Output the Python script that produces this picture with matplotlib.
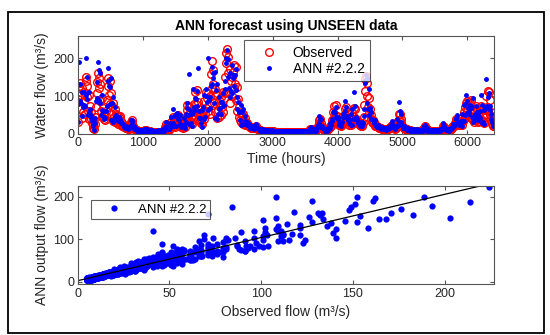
import numpy as np
import matplotlib
matplotlib.use("Agg")
import matplotlib.pyplot as plt
from matplotlib.patches import Rectangle

plt.rcParams["font.family"] = ["Liberation Sans", "DejaVu Sans"]

# hourly record, read every 10 h (one row = 100 h)
hours = np.arange(0, 6401, 10)

observed = [
    31, 93, 128, 136, 67, 104, 43, 121, 58, 88,
    112, 54, 141, 152, 97, 126, 62, 103, 39, 74,
    41, 57, 29, 24, 17, 14, 27, 46, 71, 109,
    138, 161, 123, 148, 87, 133, 61, 96, 44, 68,
    39, 53, 36, 62, 47, 91, 128, 149, 102, 141,
    79, 108, 52, 73, 34, 81, 46, 66, 31, 54,
    36, 51, 27, 44, 31, 47, 24, 34, 21, 27,
    22, 20, 19, 18, 17, 16, 15, 15, 14, 14,
    16, 23, 31, 36, 29, 21, 17, 14, 12, 11,
    10, 10, 9, 9, 9, 8, 8, 8, 8, 8,
    8, 8, 9, 10, 11, 10, 9, 8, 7, 7,
    7, 7, 6, 6, 6, 6, 6, 6, 6, 6,
    6, 6, 6, 6, 6, 6, 6, 6, 6, 6,
    6, 7, 8, 10, 14, 19, 26, 21, 15, 12,
    11, 14, 23, 18, 33, 26, 44, 29, 37, 21,
    19, 36, 27, 47, 51, 31, 43, 23, 33, 19,
    18, 26, 16, 23, 31, 19, 46, 34, 64, 76,
    49, 71, 36, 56, 29, 44, 27, 51, 41, 79,
    61, 112, 79, 117, 56, 84, 39, 66, 34, 49,
    29, 46, 26, 62, 41, 86, 54, 111, 69, 94,
    61, 108, 76, 101, 52, 158, 121, 193, 131, 168,
    81, 118, 57, 102, 42, 109, 64, 91, 46, 77,
    51, 99, 71, 112, 58, 96, 109, 152, 189, 214,
    224, 162, 203, 108, 171, 82, 139, 101, 151, 164,
    121, 183, 132, 176, 89, 124, 61, 92, 46, 71,
    36, 54, 31, 49, 26, 53, 29, 43, 23, 33,
    28, 25, 23, 21, 20, 19, 18, 17, 16, 15,
    15, 15, 16, 18, 20, 18, 15, 13, 12, 11,
    10, 10, 9, 9, 9, 9, 8, 8, 8, 8,
    8, 8, 8, 7, 7, 7, 7, 7, 7, 7,
    7, 7, 6, 6, 6, 6, 6, 6, 6, 6,
    6, 6, 6, 6, 5, 5, 5, 5, 5, 5,
    5, 5, 5, 5, 5, 5, 5, 5, 5, 5,
    5, 5, 5, 5, 5, 5, 5, 5, 5, 5,
    5, 5, 5, 5, 5, 5, 5, 5, 5, 5,
    5, 5, 5, 5, 5, 6, 7, 9, 12, 14,
    12, 10, 9, 8, 8, 8, 9, 10, 12, 15,
    20, 30, 38, 40, 30, 22, 17, 14, 12, 11,
    10, 10, 10, 10, 11, 12, 13, 15, 18, 22,
    21, 37, 31, 57, 42, 73, 49, 76, 34, 47,
    38, 32, 28, 25, 23, 22, 24, 28, 36, 48,
    41, 67, 46, 71, 34, 57, 31, 41, 24, 28,
    23, 37, 31, 57, 41, 69, 46, 67, 29, 41,
    36, 32, 28, 26, 24, 23, 22, 22, 24, 30,
    46, 76, 114, 146, 154, 101, 134, 71, 96, 56,
    67, 41, 51, 33, 38, 29, 31, 22, 25, 20,
    21, 20, 19, 18, 17, 16, 15, 15, 14, 14,
    14, 13, 13, 12, 12, 12, 12, 13, 14, 15,
    16, 17, 19, 22, 25, 22, 19, 17, 15, 14,
    16, 21, 31, 23, 52, 36, 54, 31, 41, 21,
    22, 19, 17, 15, 14, 13, 12, 12, 11, 11,
    10, 10, 10, 9, 9, 9, 9, 9, 9, 9,
    9, 9, 9, 9, 8, 8, 8, 8, 8, 8,
    9, 10, 13, 17, 20, 18, 14, 12, 11, 10,
    9, 9, 8, 8, 8, 8, 8, 8, 8, 8,
    8, 8, 8, 8, 8, 8, 8, 9, 9, 9,
    10, 12, 16, 20, 18, 14, 12, 11, 10, 10,
    10, 10, 10, 11, 12, 14, 16, 18, 20, 22,
    24, 28, 34, 40, 38, 32, 28, 25, 24, 26,
    31, 23, 43, 34, 57, 41, 71, 51, 81, 61,
    87, 51, 79, 46, 81, 56, 89, 41, 66, 36,
    31, 61, 36, 73, 44, 63, 31, 53, 34, 67,
    41, 74, 36, 65, 31, 51, 29, 64, 46, 101,
    71, 115, 61, 111, 49, 91, 36, 59, 26, 24,
    20,
]

ann = [
    33, 80, 190, 132, 87, 83, 47, 111, 72, 77,
    112, 75, 104, 200, 92, 152, 51, 110, 57, 67,
    43, 49, 34, 23, 22, 11, 30, 42, 88, 96,
    138, 190, 91, 169, 83, 161, 51, 103, 64, 61,
    41, 46, 42, 60, 61, 73, 141, 175, 126, 124,
    79, 149, 38, 83, 32, 98, 38, 71, 45, 49,
    40, 46, 34, 45, 42, 40, 28, 33, 28, 26,
    26, 18, 24, 17, 22, 15, 19, 13, 18, 16,
    19, 21, 37, 33, 38, 19, 20, 12, 15, 13,
    13, 8, 12, 10, 6, 11, 10, 5, 11, 9,
    11, 6, 13, 14, 9, 13, 7, 12, 10, 5,
    10, 6, 9, 4, 8, 10, 5, 9, 7, 8,
    9, 5, 8, 10, 6, 9, 4, 8, 11, 7,
    10, 5, 12, 8, 19, 15, 32, 19, 18, 14,
    14, 14, 29, 19, 45, 23, 65, 29, 48, 20,
    21, 52, 22, 56, 50, 40, 38, 27, 50, 19,
    21, 24, 21, 24, 42, 17, 53, 33, 81, 69,
    49, 160, 27, 64, 28, 53, 22, 55, 120, 71,
    64, 96, 93, 113, 73, 175, 43, 61, 42, 43,
    29, 63, 19, 71, 39, 104, 45, 119, 100, 85,
    64, 200, 90, 98, 68, 126, 133, 178, 162, 148,
    81, 163, 42, 116, 40, 132, 53, 97, 67, 69,
    54, 85, 84, 109, 75, 77, 120, 140, 200, 188,
    222, 198, 150, 123, 162, 99, 115, 108, 182, 148,
    127, 157, 156, 171, 116, 99, 67, 85, 57, 62,
    38, 76, 25, 58, 27, 66, 26, 48, 35, 32,
    33, 23, 29, 22, 27, 17, 22, 18, 21, 15,
    18, 14, 21, 19, 26, 16, 19, 13, 16, 12,
    13, 8, 12, 11, 7, 12, 10, 6, 11, 9,
    10, 7, 11, 9, 6, 10, 8, 9, 5, 10,
    9, 6, 9, 8, 4, 9, 7, 8, 5, 9,
    8, 5, 9, 7, 6, 8, 4, 7, 8, 6,
    7, 4, 8, 6, 7, 3, 8, 6, 7, 5,
    8, 6, 4, 7, 8, 5, 7, 6, 3, 7,
    6, 8, 5, 7, 4, 8, 6, 7, 5, 8,
    7, 4, 8, 6, 7, 9, 6, 12, 15, 19,
    16, 8, 12, 11, 6, 10, 13, 9, 16, 18,
    23, 28, 47, 41, 41, 19, 21, 15, 17, 12,
    13, 8, 14, 12, 9, 16, 11, 19, 15, 28,
    24, 34, 39, 57, 57, 60, 56, 72, 44, 43,
    40, 46, 23, 31, 24, 29, 22, 32, 54, 45,
    45, 60, 88, 71, 46, 48, 36, 40, 32, 27,
    25, 53, 25, 67, 41, 110, 40, 74, 44, 39,
    40, 29, 35, 27, 30, 20, 26, 21, 31, 29,
    48, 65, 135, 142, 155, 81, 147, 65, 119, 49,
    69, 59, 40, 40, 38, 37, 28, 26, 38, 20,
    25, 18, 23, 19, 21, 15, 19, 14, 18, 15,
    17, 12, 16, 14, 15, 11, 15, 13, 18, 16,
    19, 16, 24, 22, 34, 19, 23, 16, 20, 14,
    19, 20, 39, 24, 85, 31, 61, 31, 53, 20,
    25, 17, 22, 16, 18, 12, 15, 11, 15, 12,
    13, 8, 12, 11, 7, 12, 10, 6, 12, 11,
    11, 7, 12, 10, 6, 11, 9, 10, 7, 11,
    12, 8, 17, 22, 25, 14, 18, 15, 8, 13,
    12, 7, 11, 10, 6, 10, 9, 11, 7, 10,
    10, 6, 11, 9, 10, 7, 11, 12, 8, 11,
    13, 12, 21, 30, 20, 13, 15, 11, 13, 10,
    13, 9, 13, 12, 16, 13, 19, 17, 27, 21,
    27, 26, 42, 41, 51, 28, 33, 25, 32, 25,
    35, 22, 53, 35, 76, 35, 80, 49, 102, 56,
    87, 70, 58, 52, 77, 68, 74, 44, 96, 32,
    35, 54, 44, 73, 59, 52, 36, 51, 44, 61,
    43, 104, 29, 76, 31, 64, 26, 70, 69, 145,
    75, 99, 72, 108, 64, 73, 40, 54, 32, 21,
    23,
]

obs = np.array(observed, dtype=float)
pred = np.array(ann, dtype=float)

axcol = "#262626"
tickcol = "#555555"

fig = plt.figure(figsize=(5.5, 3.35), dpi=100)
fig.patches.append(Rectangle((8 / 550, 2 / 335), 536 / 550, 321 / 335,
                             transform=fig.transFigure, fill=False,
                             edgecolor="black", linewidth=1.3))


def style(ax):
    ax.tick_params(direction="in", top=True, right=True, labelsize=9,
                   colors=tickcol, labelcolor=axcol, length=3, pad=2.5)
    for s in ax.spines.values():
        s.set_color(tickcol)
        s.set_linewidth(0.8)


# time series
ax1 = fig.add_axes([0.1413, 0.600, 0.757, 0.2934])
ax1.plot(hours, obs, "o", mfc="none", mec="red", ms=5.5, mew=1.0, label="Observed")
ax1.plot(hours, pred, ".", color="blue", ms=5, label="ANN #2.2.2")
ax1.set_xlim(0, 6410)
ax1.set_ylim(0, 260)
ax1.set_xticks(range(0, 7000, 1000))
ax1.set_yticks([0, 100, 200])
ax1.set_title("ANN forecast using UNSEEN data", fontsize=10, fontweight="bold", pad=4)
ax1.set_xlabel("Time (hours)", fontsize=10, color=axcol, labelpad=2)
ax1.set_ylabel("Water flow (m³/s)", fontsize=10, color=axcol, labelpad=3)
style(ax1)
leg = ax1.legend(loc="upper left", bbox_to_anchor=(0.3995, 0.956), borderaxespad=0,
                 fontsize=10, frameon=True, fancybox=False, edgecolor="#333333",
                 handlelength=2.8, handletextpad=0.3, borderpad=0.4, labelspacing=0.15)
leg.get_frame().set_linewidth(0.8)

# scatter
ax2 = fig.add_axes([0.1413, 0.1513, 0.757, 0.2943])
ax2.plot(obs, pred, "o", color="blue", ms=4.5, mew=0, label="ANN #2.2.2")
k, b = np.polyfit(obs, pred, 1)
xl = np.array([0, obs.max()])
ax2.plot(xl, k * xl + b, "-", color="black", lw=0.9)
ax2.set_xlim(0, 227)
ax2.set_ylim(-6, 226)
ax2.set_xticks([0, 50, 100, 150, 200])
ax2.set_yticks([0, 100, 200])
ax2.set_xlabel("Observed flow (m³/s)", fontsize=10, color=axcol, labelpad=4)
ax2.set_ylabel("ANN output flow (m³/s)", fontsize=10, color=axcol, labelpad=3)
style(ax2)
leg2 = ax2.legend(loc="upper left", bbox_to_anchor=(0.032, 0.855), borderaxespad=0,
                  fontsize=9.5, frameon=True, fancybox=False, edgecolor="#333333",
                  handlelength=3.0, handletextpad=0.3, borderpad=0.25)
leg2.get_frame().set_linewidth(0.8)

fig.savefig("out.png", dpi=100)
